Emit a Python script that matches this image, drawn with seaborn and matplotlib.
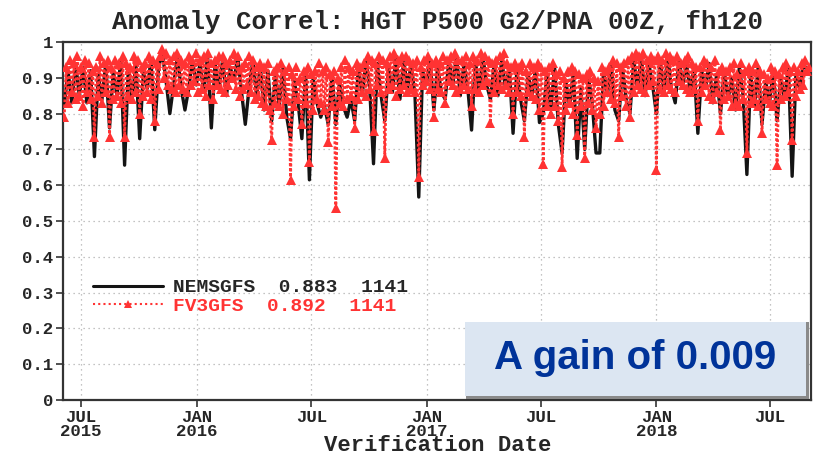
import pandas as pd
import matplotlib
matplotlib.use("Agg")
import matplotlib.pyplot as plt
from matplotlib.patches import Rectangle
from matplotlib.lines import Line2D
import seaborn as sns

# FV3GFS scores, one value every three days from 2015-06-04
fv3_start, fv3_step_days = "2015-06-04", 3
fv3gfs = [
    0.79, 0.93, 0.83, 0.95, 0.86, 0.94, 0.84, 0.96, 0.85, 0.93, 0.82, 0.95,
    0.86, 0.94, 0.84, 0.92, 0.735, 0.93, 0.85, 0.96, 0.83, 0.94, 0.86, 0.95,
    0.735, 0.93, 0.84, 0.95, 0.85, 0.94, 0.83, 0.96, 0.735, 0.94, 0.85, 0.93,
    0.84, 0.96, 0.86, 0.95, 0.80, 0.93, 0.85, 0.94, 0.86, 0.96, 0.84, 0.95,
    0.78, 0.94, 0.87, 0.96, 0.98, 0.90, 0.97, 0.88, 0.95, 0.87, 0.96, 0.86,
    0.97, 0.88, 0.95, 0.87, 0.94, 0.86, 0.96, 0.88, 0.95, 0.89, 0.97, 0.86,
    0.95, 0.87, 0.96, 0.85, 0.97, 0.88, 0.94, 0.84, 0.95, 0.88, 0.96, 0.87,
    0.96, 0.86, 0.94, 0.88, 0.95, 0.90, 0.97, 0.87, 0.96, 0.85, 0.93, 0.87,
    0.94, 0.88, 0.96, 0.86, 0.95, 0.84, 0.93, 0.85, 0.94, 0.83, 0.93, 0.82,
    0.94, 0.81, 0.726, 0.92, 0.83, 0.93, 0.82, 0.94, 0.80, 0.92, 0.84, 0.93,
    0.615, 0.91, 0.82, 0.93, 0.84, 0.90, 0.77, 0.92, 0.83, 0.93, 0.665, 0.91,
    0.81, 0.92, 0.84, 0.94, 0.83, 0.92, 0.81, 0.93, 0.72, 0.91, 0.82, 0.92,
    0.536, 0.90, 0.83, 0.93, 0.82, 0.95, 0.84, 0.93, 0.85, 0.92, 0.76, 0.94,
    0.84, 0.93, 0.86, 0.94, 0.85, 0.96, 0.87, 0.95, 0.75, 0.94, 0.88, 0.96,
    0.86, 0.95, 0.675, 0.94, 0.87, 0.96, 0.88, 0.97, 0.85, 0.95, 0.87, 0.96,
    0.88, 0.96, 0.86, 0.95, 0.87, 0.94, 0.86, 0.95, 0.623, 0.93, 0.88, 0.95,
    0.89, 0.96, 0.87, 0.94, 0.79, 0.95, 0.87, 0.94, 0.86, 0.96, 0.83, 0.95,
    0.89, 0.96, 0.88, 0.97, 0.86, 0.95, 0.87, 0.95, 0.88, 0.96, 0.87, 0.94,
    0.82, 0.96, 0.87, 0.95, 0.86, 0.97, 0.88, 0.96, 0.89, 0.95, 0.773, 0.94,
    0.86, 0.95, 0.88, 0.96, 0.87, 0.97, 0.88, 0.94, 0.86, 0.93, 0.80, 0.94,
    0.86, 0.93, 0.85, 0.94, 0.735, 0.92, 0.86, 0.94, 0.85, 0.93, 0.84, 0.94,
    0.81, 0.93, 0.66, 0.92, 0.82, 0.93, 0.80, 0.94, 0.82, 0.91, 0.78, 0.92,
    0.65, 0.90, 0.81, 0.92, 0.83, 0.93, 0.80, 0.92, 0.74, 0.91, 0.82, 0.90,
    0.675, 0.91, 0.83, 0.92, 0.81, 0.90, 0.76, 0.89, 0.80, 0.93, 0.82, 0.92,
    0.86, 0.93, 0.84, 0.95, 0.83, 0.94, 0.735, 0.93, 0.85, 0.94, 0.82, 0.95,
    0.79, 0.96, 0.86, 0.97, 0.88, 0.96, 0.87, 0.97, 0.86, 0.95, 0.88, 0.96,
    0.89, 0.95, 0.642, 0.96, 0.87, 0.95, 0.86, 0.97, 0.88, 0.96, 0.87, 0.95,
    0.86, 0.96, 0.89, 0.94, 0.88, 0.95, 0.87, 0.96, 0.86, 0.94, 0.87, 0.93,
    0.78, 0.93, 0.86, 0.95, 0.88, 0.94, 0.85, 0.93, 0.84, 0.95, 0.86, 0.92,
    0.754, 0.93, 0.84, 0.92, 0.85, 0.93, 0.82, 0.94, 0.83, 0.91, 0.82, 0.94,
    0.84, 0.92, 0.69, 0.93, 0.83, 0.92, 0.84, 0.94, 0.82, 0.92, 0.745, 0.91,
    0.84, 0.90, 0.83, 0.93, 0.82, 0.92, 0.656, 0.91, 0.84, 0.93, 0.85, 0.94,
    0.86, 0.92, 0.726, 0.93, 0.85, 0.92, 0.87, 0.94, 0.88, 0.95, 0.92, 0.93,
]

# NEMSGFS scores, one value every six days from 2015-06-04
nems_start, nems_step_days = "2015-06-04", 6
nemsgfs = [
    0.82, 0.92, 0.83, 0.94, 0.85, 0.93, 0.83, 0.92, 0.68, 0.91,
    0.84, 0.94, 0.76, 0.92, 0.85, 0.95, 0.656, 0.93, 0.84, 0.94,
    0.73, 0.92, 0.87, 0.95, 0.755, 0.93, 0.97, 0.89, 0.80, 0.88,
    0.96, 0.87, 0.81, 0.87, 0.95, 0.88, 0.94, 0.86, 0.96, 0.76,
    0.94, 0.87, 0.95, 0.85, 0.93, 0.89, 0.96, 0.86, 0.77, 0.87,
    0.95, 0.85, 0.93, 0.81, 0.92, 0.78, 0.91, 0.82, 0.93, 0.79,
    0.73, 0.89, 0.83, 0.73, 0.92, 0.615, 0.90, 0.83, 0.79, 0.82,
    0.77, 0.91, 0.77, 0.89, 0.82, 0.79, 0.84, 0.78, 0.93, 0.85,
    0.95, 0.87, 0.66, 0.94, 0.85, 0.78, 0.93, 0.86, 0.96, 0.84,
    0.95, 0.87, 0.94, 0.85, 0.567, 0.92, 0.88, 0.95, 0.81, 0.93,
    0.86, 0.84, 0.95, 0.88, 0.96, 0.85, 0.94, 0.87, 0.754, 0.95,
    0.86, 0.96, 0.88, 0.84, 0.94, 0.85, 0.95, 0.87, 0.93, 0.745,
    0.92, 0.84, 0.78, 0.91, 0.85, 0.93, 0.775, 0.80, 0.91, 0.81,
    0.93, 0.77, 0.69, 0.89, 0.82, 0.92, 0.675, 0.87, 0.70, 0.90,
    0.83, 0.69, 0.69, 0.92, 0.85, 0.94, 0.81, 0.78, 0.93, 0.84,
    0.80, 0.95, 0.87, 0.96, 0.85, 0.94, 0.88, 0.80, 0.95, 0.86,
    0.96, 0.87, 0.83, 0.95, 0.88, 0.94, 0.86, 0.93, 0.745, 0.92,
    0.87, 0.94, 0.83, 0.91, 0.80, 0.92, 0.84, 0.90, 0.81, 0.93,
    0.85, 0.63, 0.91, 0.82, 0.93, 0.77, 0.89, 0.83, 0.92, 0.78,
    0.90, 0.84, 0.93, 0.625, 0.91, 0.87, 0.94, 0.92,
]

legend_labels = ["NEMSGFS  0.883  1141", "FV3GFS  0.892  1141"]
tick_dates = ["2015-07-01", "2016-01-01", "2016-07-01", "2017-01-01",
              "2017-07-01", "2018-01-01", "2018-07-01"]
tick_labels = ["JUL\n2015", "JAN\n2016", "JUL", "JAN\n2017", "JUL", "JAN\n2018", "JUL"]
y_ticks = [0, 0.1, 0.2, 0.3, 0.4, 0.5, 0.6, 0.7, 0.8, 0.9, 1]
y_labels = ["0", "0.1", "0.2", "0.3", "0.4", "0.5", "0.6", "0.7", "0.8", "0.9", "1"]
title = "Anomaly Correl: HGT P500 G2/PNA 00Z, fh120"
gain_text = "A gain of 0.009"

fv3_df = pd.DataFrame({
    "date": pd.date_range(fv3_start, periods=len(fv3gfs), freq=f"{fv3_step_days}D"),
    "score": fv3gfs,
})
nems_df = pd.DataFrame({
    "date": pd.date_range(nems_start, periods=len(nemsgfs), freq=f"{nems_step_days}D"),
    "score": nemsgfs,
})

BLACK = "#141414"
RED = "#ff3333"

sns.set_theme(style="white")
plt.rcParams["font.family"] = ["Liberation Mono", "DejaVu Sans Mono"]
plt.rcParams["font.weight"] = "bold"

fig = plt.figure(figsize=(8.16, 4.61), dpi=100)
ax = fig.add_axes([63 / 816, 61 / 461, 748 / 816, 358 / 461])

sns.lineplot(data=nems_df, x="date", y="score", ax=ax, color=BLACK, lw=2.4, zorder=3)
sns.lineplot(data=fv3_df, x="date", y="score", ax=ax, color=RED, lw=2.0,
             linestyle=(0, (1, 0.8)), marker="^", markersize=7,
             markeredgewidth=0, zorder=4)

ax.set_xlim(pd.Timestamp("2015-06-02"), pd.Timestamp("2018-09-04"))
ax.set_ylim(0, 1)
ax.set_xticks(pd.to_datetime(tick_dates))
ax.set_xticklabels(tick_labels, fontsize=12.5, fontweight="bold", linespacing=0.95)
ax.set_yticks(y_ticks)
ax.set_yticklabels(y_labels, fontsize=12.5, fontweight="bold")
ax.tick_params(axis="both", direction="out", length=5, width=1.2, color="#333333", pad=2)
ax.tick_params(axis="both", which="both", bottom=True, left=True)
ax.set_xlabel("")
ax.set_ylabel("")

ax.grid(True, linestyle=(0, (1, 3)), color="#b0b0b0", lw=0.9)
ax.set_axisbelow(True)
for side in ax.spines.values():
    side.set_color("#333333")
    side.set_linewidth(1.6)

ax.set_title(title, fontsize=18.5, fontweight="bold", pad=9)
fig.text(0.536, 0.033, "Verification Date", ha="center", va="center",
         fontsize=16, fontweight="bold")

handles = [
    Line2D([], [], color=BLACK, lw=2.2),
    Line2D([], [], color=RED, lw=1.5, linestyle=(0, (1, 1.5)), marker="^",
           markersize=6, markeredgewidth=0),
]
leg = ax.legend(handles, legend_labels, loc="lower left",
                bbox_to_anchor=(0.025, 0.205), frameon=False,
                prop={"family": "Liberation Mono", "weight": "bold", "size": 14},
                handlelength=3.6, handletextpad=0.5, labelspacing=0.05,
                borderpad=0.1)
leg.get_texts()[1].set_color(RED)

# Highlight box for the skill difference
ax.add_patch(Rectangle((0.539, 0.004), 0.458, 0.214, transform=ax.transAxes,
                       facecolor="#8a8a8a", edgecolor="none", zorder=5))
ax.add_patch(Rectangle((0.537, 0.010), 0.456, 0.207, transform=ax.transAxes,
                       facecolor="#dce6f2", edgecolor="none", zorder=6))
ax.text(0.765, 0.118, gain_text, transform=ax.transAxes, ha="center", va="center",
        fontsize=29, fontweight="bold", color="#003399",
        family=["Liberation Sans", "DejaVu Sans"], zorder=7)

fig.savefig("out.png", dpi=100)
